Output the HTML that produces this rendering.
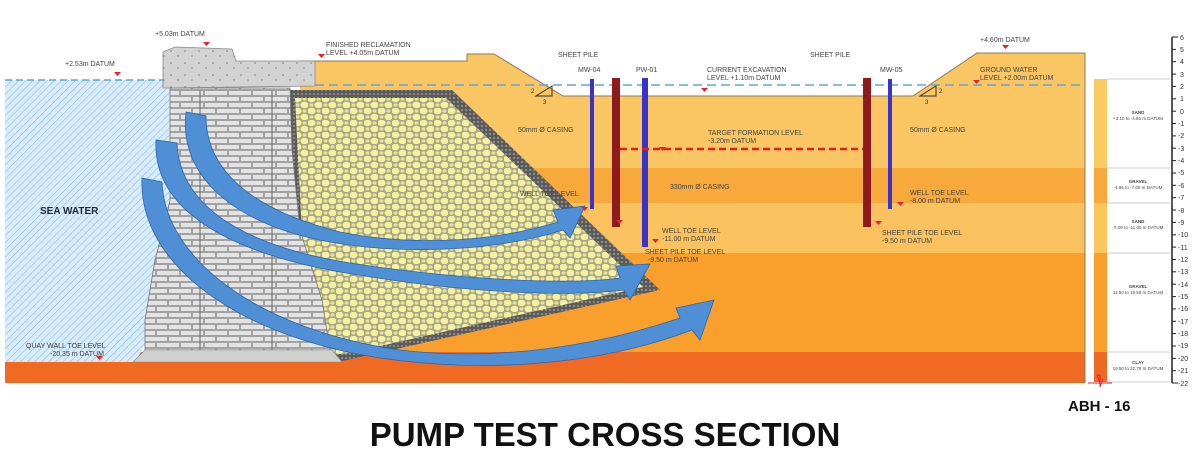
<!DOCTYPE html>
<html><head><meta charset="utf-8"><style>
html,body{margin:0;padding:0;background:#fff;}
svg{display:block;}
text{font-family:"Liberation Sans",sans-serif;}
.s{font-size:7px;fill:#444;}
.t{font-size:6px;fill:#333;}
</style></head><body>
<svg width="1200" height="460" viewBox="0 0 1200 460" xmlns="http://www.w3.org/2000/svg">
<defs>
<pattern id="hatch" width="5" height="5" patternUnits="userSpaceOnUse" patternTransform="rotate(45)">
<rect width="5" height="5" fill="#d9ecf9"/><line x1="0" y1="0" x2="0" y2="5" stroke="#8cbde4" stroke-width="1.2"/></pattern>
<pattern id="brick" width="24" height="12" patternUnits="userSpaceOnUse">
<rect width="24" height="12" fill="#d9d9d9"/>
<rect x="0.5" y="0.5" width="23" height="5" fill="#e3e3e3" stroke="#8a8a8a" stroke-width="0.7"/>
<rect x="-11.5" y="6.5" width="23" height="5" fill="#e3e3e3" stroke="#8a8a8a" stroke-width="0.7"/>
<rect x="12.5" y="6.5" width="23" height="5" fill="#e3e3e3" stroke="#8a8a8a" stroke-width="0.7"/></pattern>
<pattern id="rock" width="14" height="12" patternUnits="userSpaceOnUse">
<rect width="14" height="12" fill="#a8a888"/>
<ellipse cx="3.5" cy="3" rx="4" ry="3.2" fill="#f6f2a0"/>
<ellipse cx="10.5" cy="9" rx="4" ry="3.2" fill="#f6f2a0"/>
<ellipse cx="10.5" cy="3" rx="2" ry="1.6" fill="#e8e494"/>
<ellipse cx="3.5" cy="9" rx="2" ry="1.6" fill="#e8e494"/></pattern>
<pattern id="dark" width="4" height="4" patternUnits="userSpaceOnUse">
<rect width="4" height="4" fill="#5b5b5b"/><circle cx="2" cy="2" r="1" fill="#9a9a9a"/></pattern>
<pattern id="conc" width="14" height="12" patternUnits="userSpaceOnUse">
<rect width="14" height="12" fill="#d3d3d3"/><circle cx="3" cy="3" r="0.8" fill="#777"/><circle cx="10" cy="8" r="0.7" fill="#777"/></pattern>
</defs>

<polygon points="300,61 467,61 467,54 494,54 563,96 913,96 977,53 1085,53 1085,383 300,383" fill="#f9c663"/>
<rect x="300" y="168" width="785" height="35" fill="#f7a93c"/>
<rect x="300" y="203" width="785" height="50" fill="#fac25f"/>
<rect x="300" y="253" width="785" height="99" fill="#f99f2b"/>
<rect x="5" y="352" width="1080" height="31" fill="#f06a23"/>
<polyline points="300,61 467,61 467,54 494,54 563,96 913,96 977,53 1085,53 1085,383" fill="none" stroke="#8a7a5a" stroke-width="1"/>

<polygon points="5,80 165,80 185,100 190,120 172,170 170,230 163,260 155,290 150,320 145,345 135,362 5,362" fill="url(#hatch)"/>
<line x1="5" y1="80" x2="165" y2="80" stroke="#5aa7e0" stroke-width="1.5" stroke-dasharray="7,4"/>
<line x1="315" y1="85" x2="1085" y2="85" stroke="#5aa7e0" stroke-width="1.5" stroke-dasharray="9,5"/>
<rect x="5" y="362" width="330" height="21" fill="#f06a23"/>

<polygon points="285,90 452,90 660,290 338,362 300,362" fill="url(#dark)"/>
<polygon points="295,98 446,98 643,287 345,354 308,354" fill="url(#rock)"/>

<polygon points="170,88 290,88 292,150 300,230 322,300 330,350 145,350 145,320 150,290 155,260 163,230 170,200" fill="url(#brick)" stroke="#777" stroke-width="0.8"/>
<line x1="200" y1="90" x2="200" y2="350" stroke="#666" stroke-width="1"/>
<line x1="272" y1="90" x2="272" y2="350" stroke="#666" stroke-width="1"/>
<polygon points="145,350 332,350 342,362 133,362" fill="#d0d0d0" stroke="#888" stroke-width="0.6"/>
<polygon points="163,88 163,52 175,47 232,49 236,61 315,61 315,86" fill="url(#conc)" stroke="#888" stroke-width="0.8"/>

<rect x="590" y="79" width="4" height="130" fill="#3a33c9"/>
<rect x="612" y="78" width="8" height="149" fill="#8e1a1f"/>
<rect x="642" y="78" width="6" height="169" fill="#3a33c9"/>
<rect x="863" y="78" width="8" height="149" fill="#8e1a1f"/>
<rect x="888" y="79" width="4" height="130" fill="#3a33c9"/>
<line x1="620" y1="149" x2="863" y2="149" stroke="#e0201a" stroke-width="2.5" stroke-dasharray="7,4"/>

<g fill="#4e8fd5" stroke="#2f66a8" stroke-width="0.8">
<path d="M206,116 C206,175 260,212 340,232 C420,248 500,240 558,222 L553,210 L585,206 L570,238 L563,230 C500,250 410,256 330,242 C240,226 178,180 186,112 Z"/>
<path d="M177,143 C180,210 250,250 370,266 C470,280 570,285 620,278 L616,266 L650,264 L630,300 L624,290 C570,297 470,293 365,276 C240,258 152,215 156,140 Z"/>
<path d="M162,182 C165,260 260,330 400,350 C500,362 600,345 680,318 L676,308 L714,300 L700,340 L692,330 C600,365 490,372 395,360 C250,342 138,270 142,178 Z"/>
</g>

<polygon points="536,96 552,96 552,86" fill="none" stroke="#333" stroke-width="1"/>
<text x="531" y="93" class="t">2</text><text x="543" y="104" class="t">3</text>
<polygon points="920,96 936,96 936,86" fill="none" stroke="#333" stroke-width="1"/>
<text x="939" y="93" class="t">2</text><text x="925" y="104" class="t">3</text>

<g class="s">
<text x="155" y="36">+5.03m DATUM</text>
<text x="65" y="66">+2.53m DATUM</text>
<text x="326" y="47">FINISHED RECLAMATION</text>
<text x="326" y="55">LEVEL +4.05m DATUM</text>
<text x="558" y="57">SHEET PILE</text>
<text x="578" y="72">MW-04</text>
<text x="636" y="72">PW-01</text>
<text x="707" y="72">CURRENT EXCAVATION</text>
<text x="707" y="80">LEVEL +1.10m DATUM</text>
<text x="810" y="57">SHEET PILE</text>
<text x="880" y="72">MW-05</text>
<text x="980" y="42">+4.60m DATUM</text>
<text x="980" y="72">GROUND WATER</text>
<text x="980" y="80">LEVEL +2.00m DATUM</text>
<text x="518" y="132">50mm Ø CASING</text>
<text x="708" y="135">TARGET FORMATION LEVEL</text>
<text x="708" y="143">-3.20m DATUM</text>
<text x="910" y="132">50mm Ø CASING</text>
<text x="520" y="196">WELL TOE LEVEL</text>
<text x="670" y="189">330mm Ø CASING</text>
<text x="910" y="195">WELL TOE LEVEL</text>
<text x="910" y="203">-8.00 m DATUM</text>
<text x="662" y="233">WELL TOE LEVEL</text>
<text x="662" y="241">-11.00 m DATUM</text>
<text x="645" y="254">SHEET PILE TOE LEVEL</text>
<text x="648" y="262">-9.50 m DATUM</text>
<text x="882" y="235">SHEET PILE TOE LEVEL</text>
<text x="882" y="243">-9.50 m DATUM</text>
<text x="26" y="348">QUAY WALL TOE LEVEL</text>
<text x="50" y="356">-20.35 m DATUM</text>
</g>
<g fill="#e8212a">
<path d="M203,42 h7 l-3.5,4 z"/><path d="M114,72 h7 l-3.5,4 z"/><path d="M318,54 h7 l-3.5,4 z"/>
<path d="M701,88 h7 l-3.5,4 z"/><path d="M1002,45 h7 l-3.5,4 z"/><path d="M973,80 h7 l-3.5,4 z"/>
<path d="M659,147 h7 l-3.5,4 z"/><path d="M581,207 h7 l-3.5,4 z"/><path d="M616,220 h7 l-3.5,4 z"/>
<path d="M652,239 h7 l-3.5,4 z"/><path d="M875,221 h7 l-3.5,4 z"/><path d="M897,202 h7 l-3.5,4 z"/>
<path d="M96,356 h7 l-3.5,4 z"/>
</g>
<text x="40" y="214" style="font-size:10px;font-weight:bold;fill:#1d2a3a">SEA WATER</text>

<rect x="1094" y="79" width="13" height="89" fill="#fcca63"/>
<rect x="1094" y="168" width="13" height="35" fill="#f8a93c"/>
<rect x="1094" y="203" width="13" height="50" fill="#fcc65f"/>
<rect x="1094" y="253" width="13" height="99" fill="#f99f2b"/>
<rect x="1094" y="352" width="13" height="30" fill="#ee6a24"/>
<g stroke="#bbb" stroke-width="0.7">
<line x1="1107" y1="79" x2="1170" y2="79"/><line x1="1107" y1="168" x2="1170" y2="168"/>
<line x1="1107" y1="203" x2="1170" y2="203"/><line x1="1107" y1="253" x2="1170" y2="253"/>
<line x1="1107" y1="352" x2="1170" y2="352"/><line x1="1107" y1="382" x2="1170" y2="382"/>
</g>
<g style="font-size:4.5px;fill:#444" text-anchor="middle">
<text x="1138" y="114" style="font-weight:bold">SAND</text><text x="1138" y="120">+3.10 to -4.65 m DATUM</text>
<text x="1138" y="183" style="font-weight:bold">GRAVEL</text><text x="1138" y="189">-4.65 to -7.00 m DATUM</text>
<text x="1138" y="223" style="font-weight:bold">SAND</text><text x="1138" y="229">-7.00 to -11.00 m DATUM</text>
<text x="1138" y="288" style="font-weight:bold">GRAVEL</text><text x="1138" y="294">11.50 to 19.50 m DATUM</text>
<text x="1138" y="364" style="font-weight:bold">CLAY</text><text x="1138" y="370">19.50 to 22.78 m DATUM</text>
</g>
<path d="M1088,383 L1112,383 M1100,383 l-3,-8 l3,0 l0,12 l3,-8" stroke="#e8212a" stroke-width="1" fill="none"/>

<line x1="1172" y1="37" x2="1172" y2="383" stroke="#222" stroke-width="1.5"/>
<g stroke="#222" stroke-width="1">
<line x1="1172" y1="37" x2="1178" y2="37"/><line x1="1172" y1="49.4" x2="1176" y2="49.4"/><line x1="1172" y1="61.7" x2="1176" y2="61.7"/><line x1="1172" y1="74.1" x2="1176" y2="74.1"/><line x1="1172" y1="86.4" x2="1176" y2="86.4"/><line x1="1172" y1="98.8" x2="1176" y2="98.8"/><line x1="1172" y1="111.2" x2="1176" y2="111.2"/><line x1="1172" y1="123.5" x2="1176" y2="123.5"/><line x1="1172" y1="135.9" x2="1176" y2="135.9"/><line x1="1172" y1="148.2" x2="1176" y2="148.2"/><line x1="1172" y1="160.6" x2="1176" y2="160.6"/><line x1="1172" y1="173" x2="1176" y2="173"/><line x1="1172" y1="185.3" x2="1176" y2="185.3"/><line x1="1172" y1="197.7" x2="1176" y2="197.7"/><line x1="1172" y1="210" x2="1176" y2="210"/><line x1="1172" y1="222.4" x2="1176" y2="222.4"/><line x1="1172" y1="234.8" x2="1176" y2="234.8"/><line x1="1172" y1="247.1" x2="1176" y2="247.1"/><line x1="1172" y1="259.5" x2="1176" y2="259.5"/><line x1="1172" y1="271.8" x2="1176" y2="271.8"/><line x1="1172" y1="284.2" x2="1176" y2="284.2"/><line x1="1172" y1="296.6" x2="1176" y2="296.6"/><line x1="1172" y1="308.9" x2="1176" y2="308.9"/><line x1="1172" y1="321.3" x2="1176" y2="321.3"/><line x1="1172" y1="333.6" x2="1176" y2="333.6"/><line x1="1172" y1="346" x2="1176" y2="346"/><line x1="1172" y1="358.4" x2="1176" y2="358.4"/><line x1="1172" y1="370.7" x2="1176" y2="370.7"/><line x1="1172" y1="383" x2="1178" y2="383"/>
</g>
<g style="font-size:7px;fill:#333">
<text x="1180" y="40">6</text><text x="1180" y="52">5</text><text x="1180" y="64">4</text><text x="1180" y="77">3</text><text x="1180" y="89">2</text><text x="1180" y="101">1</text><text x="1180" y="114">0</text><text x="1178" y="126">-1</text><text x="1178" y="138">-2</text><text x="1178" y="151">-3</text><text x="1178" y="163">-4</text><text x="1178" y="175">-5</text><text x="1178" y="188">-6</text><text x="1178" y="200">-7</text><text x="1178" y="213">-8</text><text x="1178" y="225">-9</text><text x="1178" y="237">-10</text><text x="1178" y="250">-11</text><text x="1178" y="262">-12</text><text x="1178" y="274">-13</text><text x="1178" y="287">-14</text><text x="1178" y="299">-15</text><text x="1178" y="311">-16</text><text x="1178" y="324">-17</text><text x="1178" y="336">-18</text><text x="1178" y="348">-19</text><text x="1178" y="361">-20</text><text x="1178" y="373">-21</text><text x="1178" y="386">-22</text>
</g>

<text x="1068" y="411" style="font-size:15px;font-weight:bold;fill:#111">ABH - 16</text>
<text x="605" y="446" text-anchor="middle" style="font-size:33px;font-weight:bold;fill:#111">PUMP TEST CROSS SECTION</text>
</svg>
</body></html>
